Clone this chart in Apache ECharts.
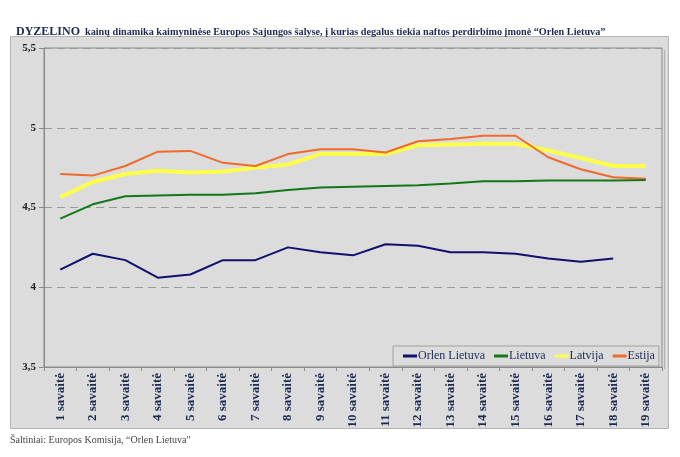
<!DOCTYPE html>
<html>
<head>
<meta charset="utf-8">
<script src="https://cdn.jsdelivr.net/npm/echarts@6/dist/echarts.min.js"></script>
<style>html,body{margin:0;padding:0;background:#fff;}#c{width:680px;height:457px;}</style>
</head>
<body>
<div id="c"></div>
<script>
var categories = ['1 savaitė','2 savaitė','3 savaitė','4 savaitė','5 savaitė','6 savaitė','7 savaitė','8 savaitė','9 savaitė','10 savaitė','11 savaitė','12 savaitė','13 savaitė','14 savaitė','15 savaitė','16 savaitė','17 savaitė','18 savaitė','19 savaitė'];
var orlenLietuva = [4.11,4.21,4.17,4.06,4.08,4.17,4.17,4.25,4.22,4.20,4.27,4.26,4.22,4.22,4.21,4.18,4.16,4.18,null];
var lietuva = [4.43,4.52,4.57,4.575,4.58,4.58,4.59,4.61,4.625,4.63,4.635,4.64,4.65,4.665,4.665,4.67,4.67,4.67,4.673];
var latvija = [4.565,4.66,4.71,4.73,4.72,4.725,4.75,4.77,4.835,4.835,4.835,4.89,4.895,4.9,4.9,4.858,4.81,4.76,4.76];
var estija = [4.71,4.70,4.76,4.85,4.855,4.78,4.76,4.835,4.865,4.865,4.845,4.915,4.93,4.95,4.95,4.815,4.74,4.69,4.68];
var yTicks = [3.5,4,4.5,5,5.5];

var serif = '"Liberation Serif", "DejaVu Serif", serif';
var navyText = '#1c2a52';
var chart = echarts.init(document.getElementById('c'));
function mk(name, data, color, width, z) {
  return {
    name: name, type: 'line', data: data, symbol: 'none', smooth: false, z: z,
    lineStyle: { color: color, width: width }, itemStyle: { color: color },
    emphasis: { disabled: true }
  };
}
chart.setOption({
  animation: false,
  graphic: [
    { type: 'rect', z: -10, shape: { x: 10.5, y: 36.5, width: 658, height: 392 },
      style: { fill: '#dcdcdc', stroke: '#b4b4b4', lineWidth: 1 } },
    { type: 'line', z: -9, shape: { x1: 664.5, y1: 50, x2: 664.5, y2: 369 },
      style: { stroke: '#b0b0b0', lineWidth: 1 } },
    { type: 'text', left: 10, top: 435,
      style: { text: 'Šaltiniai: Europos Komisija, “Orlen Lietuva”', font: '10px ' + serif, fill: '#444' } }
  ],
  title: {
    left: 11, top: 18,
    text: '{a|DYZELINO} {b|kainų dinamika kaimyninėse Europos Sajungos šalyse, į kurias degalus tiekia naftos perdirbimo įmonė “Orlen Lietuva”}',
    textStyle: {
      rich: {
        a: { fontFamily: serif, fontWeight: 'bold', fontSize: 12, color: navyText },
        b: { fontFamily: serif, fontWeight: 'bold', fontSize: 10.2, color: navyText }
      }
    }
  },
  legend: {
    left: 393, top: 346,
    padding: [4, 4, 4, 10],
    itemGap: 9, itemWidth: 14, itemHeight: 3,
    backgroundColor: '#dcdcdc', borderColor: '#a0a0a0', borderWidth: 1,
    textStyle: { fontFamily: serif, fontSize: 12, color: navyText, padding: [0, 0, 0, -4] },
    data: [
      { name: 'Orlen Lietuva', icon: 'rect' },
      { name: 'Lietuva', icon: 'rect' },
      { name: 'Latvija', icon: 'rect' },
      { name: 'Estija', icon: 'rect' }
    ]
  },
  grid: {
    left: 44, right: 18, top: 48, bottom: 90,
    show: true, backgroundColor: '#dcdcdc', borderColor: '#8a8a8a', borderWidth: 1
  },
  xAxis: {
    type: 'category', data: categories, boundaryGap: true,
    axisLine: { show: true, lineStyle: { color: '#8a8a8a' } },
    axisTick: { show: true, length: 4, alignWithLabel: false, lineStyle: { color: '#8a8a8a' } },
    axisLabel: { rotate: 90, interval: 0, margin: 6, fontFamily: serif, fontWeight: 'bold', fontSize: 13, color: navyText }
  },
  yAxis: {
    type: 'value', min: 3.5, max: 5.5, interval: 0.5,
    axisLine: { show: true, lineStyle: { color: '#8a8a8a' } },
    axisTick: { show: true, length: 5, lineStyle: { color: '#8a8a8a' } },
    splitLine: { show: true, lineStyle: { color: '#9a9a9a', type: [8, 5], width: 1 } },
    axisLabel: {
      margin: 8, fontFamily: serif, fontWeight: 'bold', fontSize: 11, color: '#222',
      formatter: function (v) { return yTicks.indexOf(v) >= 0 ? String(v).replace('.', ',') : ''; }
    }
  },
  series: [
    mk('Orlen Lietuva', orlenLietuva, '#10106e', 2, 6),
    mk('Lietuva', lietuva, '#12781a', 2, 5),
    mk('Latvija', latvija, '#ffff4a', 4, 3),
    mk('Estija', estija, '#f06a2a', 2, 4)
  ]
});
</script>
</body>
</html>
